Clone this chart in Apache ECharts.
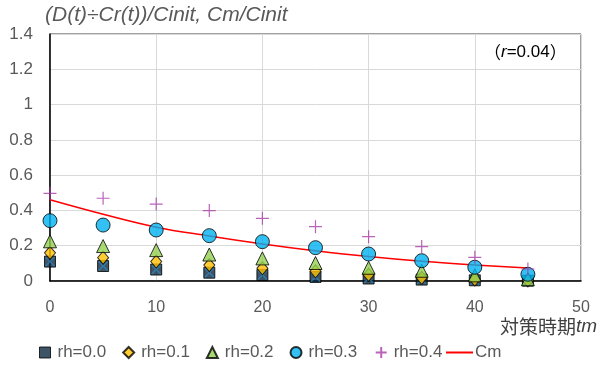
<!DOCTYPE html>
<html><head><meta charset="utf-8">
<script src="https://cdn.jsdelivr.net/npm/echarts@6/dist/echarts.min.js"></script>
<style>html,body{margin:0;padding:0;background:#fff}#c{width:597px;height:367px}</style>
</head><body><div id="c"></div>
<script>
const tm = [0, 5, 10, 15, 20, 25, 30, 35, 40, 45];
const rh00 = [0.110, 0.085, 0.065, 0.047, 0.034, 0.023, 0.014, 0.008, 0.004, 0.002];
const rh01 = [0.160, 0.132, 0.110, 0.090, 0.072, 0.055, 0.035, 0.018, 0.008, 0.003];
const rh02 = [0.225, 0.198, 0.175, 0.150, 0.128, 0.102, 0.075, 0.058, 0.032, 0.010];
const rh03 = [0.342, 0.317, 0.289, 0.257, 0.223, 0.189, 0.153, 0.115, 0.078, 0.038];
const rh04 = [0.497, 0.469, 0.436, 0.399, 0.355, 0.308, 0.251, 0.195, 0.134, 0.068];
const cm   = [0.460, 0.378, 0.305, 0.255, 0.210, 0.172, 0.139, 0.112, 0.091, 0.074];
const yTicks = [0, 0.2, 0.4, 0.6, 0.8, 1, 1.2, 1.4];

const pair = a => tm.map((t, i) => [t, a[i]]);
const FONT = 'Liberation Sans';
const chart = echarts.init(document.getElementById('c'));
const plusPath = 'path://M5,0L5,10M0,5L10,5';
const xPath = 'path://M0,0L10,10M10,0L0,10';
const legText = {color: '#595959', fontSize: 17, fontFamily: FONT, padding: [0, 0, 0, 2]};
chart.setOption({
  animation: false,
  textStyle: {fontFamily: FONT},
  grid: {left: 50, right: 16, top: 34, bottom: 86, show: true, borderColor: '#404040', borderWidth: 1},
  xAxis: {
    type: 'value', min: 0, max: 50, interval: 10,
    axisLine: {lineStyle: {color: '#000', width: 1.5}},
    axisTick: {show: false},
    axisLabel: {color: '#595959', fontSize: 16, margin: 19, fontFamily: FONT},
    splitLine: {lineStyle: {color: '#d9d9d9'}}
  },
  yAxis: {
    type: 'value', min: 0, max: 1.4, interval: 0.2,
    axisLine: {show: true, lineStyle: {color: '#000', width: 1.5}},
    axisTick: {show: false},
    axisLabel: {color: '#595959', fontSize: 17, margin: 17, fontFamily: FONT,
      formatter: v => { const t = yTicks.find(k => Math.abs(k - v) < 1e-9); return t === undefined ? '' : String(t); }},
    splitLine: {lineStyle: {color: '#d9d9d9'}}
  },
  legend: [{
    bottom: 1, left: 34, itemGap: 16, itemWidth: 11, itemHeight: 11,
    textStyle: legText,
    data: [
      {name: 'rh=0.0', icon: 'rect', itemStyle: {color: '#0d2a40', borderColor: '#000', borderWidth: 1}},
      {name: 'rh=0.1', icon: 'diamond'},
      {name: 'rh=0.2', icon: 'triangle'},
      {name: 'rh=0.3', icon: 'circle'},
      {name: 'rh=0.4', icon: plusPath}
    ]
  }, {
    bottom: 1, left: 441, itemWidth: 27, itemHeight: 2,
    textStyle: {color: '#595959', fontSize: 17, fontFamily: FONT, padding: [0, 0, 0, -3]},
    data: [{name: 'Cm', icon: 'rect', itemStyle: {color: '#ff0000'}}]
  }],
  graphic: [
    {type: 'text', left: 45, top: 5, style: {text: '(D(t)÷Cr(t))/Cinit, Cm/Cinit', font: 'italic 21px "Liberation Sans"', fill: '#595959'}},
    {type: 'text', right: 0, top: 317, style: {
      text: '{a|対策時期}{b|tm}',
      rich: {a: {fontSize: 19, fontFamily: 'Noto Sans CJK JP'},
             b: {fontSize: 19, fontStyle: 'italic', fontFamily: FONT}}, fill: '#404040'}},
    {type: 'rect', left: 476, top: 35, shape: {width: 104, height: 36}, style: {fill: '#fff'}},
    {type: 'text', left: 484, top: 44, style: {
      text: '{p|（}{i|r}{n|=0.04}{p|）}',
      rich: {p: {fontSize: 17, fontFamily: 'Noto Sans CJK JP'}, i: {fontSize: 17, fontStyle: 'italic', fontFamily: FONT},
             n: {fontSize: 17, fontFamily: FONT}}, fill: '#000'}}
  ],
  series: [
    {name: 'Cm', type: 'line', data: pair(cm), smooth: 0.4, symbol: 'none', lineStyle: {color: '#ff0000', width: 1.5}, itemStyle: {color: '#ff0000'}, z: 2},
    {name: 'rh=0.0', type: 'scatter', data: pair(rh00), symbol: 'rect', symbolSize: 11,
      itemStyle: {color: '#0d2a40', borderColor: '#000', borderWidth: 1}, z: 3},
    {name: 'rh=0.0x', type: 'scatter', data: pair(rh00), symbol: xPath, symbolSize: 9,
      itemStyle: {color: 'none', borderColor: '#2f86c0', borderWidth: 1.3}, z: 4, silent: true},
    {name: 'rh=0.1', type: 'scatter', data: pair(rh01), symbol: 'diamond', symbolSize: [11, 13],
      itemStyle: {color: '#ffc000', borderColor: '#000', borderWidth: 1}, z: 5},
    {name: 'rh=0.2', type: 'scatter', data: pair(rh02), symbol: 'triangle', symbolSize: [13, 13],
      itemStyle: {color: '#92d050', borderColor: '#000', borderWidth: 1}, z: 6},
    {name: 'rh=0.3', type: 'scatter', data: pair(rh03), symbol: 'circle', symbolSize: 14,
      itemStyle: {color: '#00b0f0', borderColor: '#000', borderWidth: 1}, z: 7},
    {name: 'rh=0.4', type: 'scatter', data: pair(rh04), symbol: plusPath, symbolSize: 13,
      itemStyle: {color: 'none', borderColor: '#a83ca8', borderWidth: 1.2}, z: 8}
  ]
});
</script></body></html>
